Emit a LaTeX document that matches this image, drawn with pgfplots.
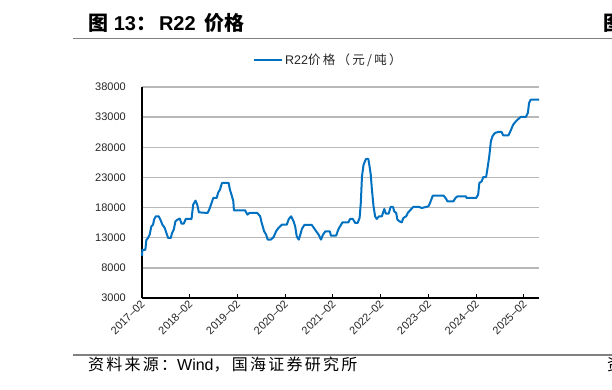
\documentclass[border=0pt]{standalone}
\usepackage{fontspec}
\setmainfont{Liberation Sans}
\newfontfamily\cjk{Noto Sans CJK SC}
\newfontfamily\cjkfoot[LetterSpace=14]{Noto Sans CJK SC}
\newfontfamily\cjkleg[LetterSpace=18]{Noto Sans CJK SC}
\usepackage{pgfplots}
\pgfplotsset{compat=1.18}
\definecolor{lineblue}{RGB}{0,112,192}
\definecolor{rulegray}{RGB}{128,128,128}
\pgfplotstableread{
m v
0 10000
0.1 11000
0.84 11000
1.09 12600
1.51 12960
1.93 13510
2.35 14890
2.78 15170
3.03 16000
3.45 16550
4.2 16550
4.63 16000
5.13 15170
5.72 14620
6.14 13790
6.56 12960
7.23 12960
7.57 13790
7.99 14340
8.41 15720
8.92 16000
9.5 16160
9.92 15330
10.5 15330
11.0 16110
12.45 16110
12.87 18490
13.46 19150
13.88 18490
14.3 17210
16.48 17100
16.9 17660
17.49 18760
17.91 19590
18.76 19590
19.18 20530
19.6 20970
20.1 22080
21.78 22080
22.1 20970
22.5 20140
22.96 19040
23.1 17550
25.9 17550
26.5 16830
27.0 17100
29.0 17100
29.7 16550
30.1 15450
30.7 14060
31.2 13510
31.6 12680
32.4 12680
33.1 13120
33.7 14060
34.3 14620
35.2 15170
36.4 15170
36.9 16110
37.5 16550
38.1 15720
38.5 14890
38.9 13230
39.4 12680
39.8 13510
40.2 14450
40.8 15110
42.7 15110
43.2 14620
43.8 14060
44.4 13510
45.0 12680
45.5 13510
46.1 14060
47.2 14060
47.5 13340
48.8 13340
49.4 14450
49.8 14890
50.4 15550
51.9 15550
52.3 16110
53.0 16110
53.6 15450
54.2 15450
54.7 16270
55.0 18760
55.3 23180
55.7 25120
56.3 26060
56.9 26060
57.2 24840
57.5 23460
57.8 20970
58.2 18210
58.6 16550
59.0 16110
59.6 16550
60.3 16550
60.9 17770
61.3 17000
62.0 17000
62.5 18100
63.1 18100
63.4 17380
63.9 17100
64.2 16000
64.7 15720
65.3 15550
65.7 16270
66.4 16550
66.8 17100
67.4 17550
68.2 18100
69.7 18100
70.3 17930
72.0 18210
72.4 18760
73.1 19980
75.8 19980
76.3 19590
76.8 19040
78.3 19040
78.8 19590
79.3 19870
81.4 19870
81.6 19590
84.0 19590
84.5 20140
84.8 22080
85.4 22360
85.8 23070
86.5 23070
86.8 24290
87.3 26500
87.7 28990
88.1 29820
88.7 30370
89.6 30540
90.4 30540
90.8 29980
92.1 29980
92.6 30650
93.3 31750
94.0 32310
94.6 32690
95.2 33030
96.5 33030
97.0 33690
97.3 35350
97.7 35900
99.8 35900
}\rtwotwo
\begin{document}
\begin{tikzpicture}
\useasboundingbox (0pt,0pt) rectangle (612pt,390pt);
% title and rules
\node[anchor=base west, inner sep=0pt, font=\fontsize{20}{23}\selectfont\bfseries] at (88pt,359pt) {{\cjk 图} 13{\cjk ：}\hspace{3pt}R22\hspace{3pt} {\cjk 价格}};
\node[anchor=base west, inner sep=0pt, font=\fontsize{20}{23}\selectfont\bfseries] at (603pt,359pt) {{\cjk 图}};
\draw[rulegray, line width=1.5pt] (73pt,351.5pt) -- (612pt,351.5pt);
\draw[rulegray, line width=1.5pt] (73pt,35pt) -- (612pt,35pt);
\node[anchor=base west, inner sep=0pt, font=\fontsize{16}{19}\selectfont] at (88pt,19pt) {{\cjkfoot 资料来源：}Wind{\cjkfoot ，国海证券研究所}};
\node[anchor=base west, inner sep=0pt, font=\fontsize{16}{19}\selectfont] at (607pt,19pt) {{\cjkfoot 资}};
\begin{axis}[
  at={(142pt,92pt)}, anchor=south west,
  scale only axis, width=397pt, height=211pt,
  xmin=0, xmax=99.8, ymin=3000, ymax=38000,
  axis x line*=bottom, axis y line*=left,
  axis line style={black, line width=1.2pt},
  xtick={0,12,24,36,48,60,72,84,96},
  xticklabels={2017--02,2018--02,2019--02,2020--02,2021--02,2022--02,2023--02,2024--02,2025--02},
  ytick={3000,8000,13000,18000,23000,28000,33000,38000},
  scaled y ticks=false,
  ymajorgrids=true,
  y grid style={black!28, line width=1.3pt},
  tick align=inside, major tick length=4pt,
  xtick style={black, line width=1pt},
  ytick style={black!28, line width=1.3pt},
  /pgf/number format/assume math mode=true,
  /pgf/number format/1000 sep={},
  yticklabel style={font=\fontsize{11}{13}\selectfont, text=black!85, inner sep=0pt, anchor=east, xshift=-16pt},
  xticklabel style={font=\fontsize{11}{13}\selectfont, text=black!85, inner sep=0pt, xshift=1pt, yshift=-4pt, rotate=45, anchor=east},
  legend style={draw=none, fill=none, at={(axis description cs:0.2796,1.128)}, anchor=west, inner sep=0pt, font=\fontsize{12.5}{15}\selectfont, text=black!85},
  legend image code/.code={\draw[#1] (0pt,0pt) -- (28pt,0pt);},
  clip=false,
]
\addplot[lineblue, line width=2pt, line join=round] table[x=m, y=v] {\rtwotwo};
\addlegendentry{R22{\cjkleg 价格（元/吨）}}
\end{axis}
\end{tikzpicture}
\end{document}
